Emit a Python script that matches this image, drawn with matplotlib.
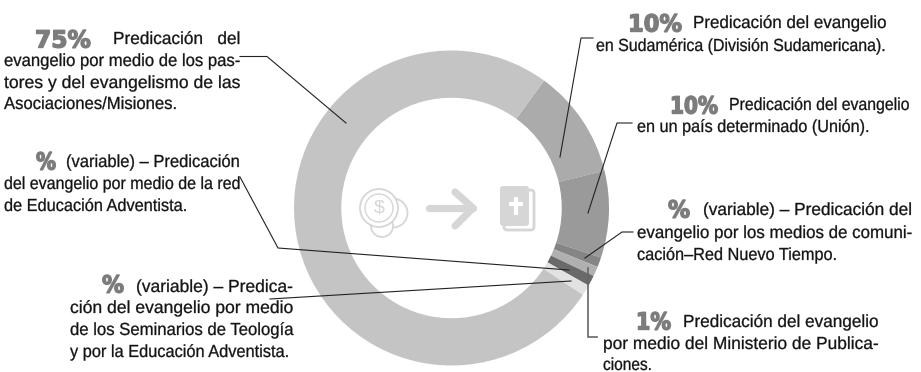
import matplotlib
matplotlib.use("Agg")
import matplotlib.pyplot as plt
from matplotlib.patches import Circle, FancyBboxPatch
from matplotlib.patheffects import AbstractPathEffect
from matplotlib.transforms import Affine2D

W, H = 921, 372
shares = [11.2, 8.9, 1.0, 1.0, 1.1, 1.1, 75.7]
colors = ['#ababab', '#9a9a9a', '#858585', '#b0b0b0', '#6a6a6a', '#e2e2e2', '#c4c4c4']

heads = ['75%', '10%', '10%', '%', '1%', '%', '%']
FONT = ['Liberation Sans', 'DejaVu Sans']
INK = '#141414'
HEADC = '#7c7c7c'

# x0, x1, y-centre, string
lines = [
    (113, 240, 38, 'Predicación   del'),
    (4, 240, 60, 'evangelio por medio de los pas-'),
    (4, 240, 82, 'tores y del evangelismo de las'),
    (4, 177, 103, 'Asociaciones/Misiones.'),
    (693, 886, 22, 'Predicación del evangelio'),
    (596, 886, 45, 'en Sudamérica (División Sudamericana).'),
    (729, 909, 104, 'Predicación del evangelio'),
    (637, 870, 126, 'en un país determinado (Unión).'),
    (703, 912, 209, '(variable) – Predicación del'),
    (637, 912, 232, 'evangelio por los medios de comuni-'),
    (637, 837, 254, 'cación–Red Nuevo Tiempo.'),
    (683, 878, 321, 'Predicación del evangelio'),
    (603, 878, 343, 'por medio del Ministerio de Publica-'),
    (603, 652, 364, 'ciones.'),
    (66, 240, 161, '(variable) – Predicación'),
    (4, 240, 183, 'del evangelio por medio de la red'),
    (4, 187, 205, 'de Educación Adventista.'),
    (136, 293, 286, '(variable) – Predica-'),
    (70, 293, 307, 'ción del evangelio por medio'),
    (70, 293, 329, 'de los Seminarios de Teología'),
    (70, 289, 351, 'y por la Educación Adventista.'),
]
head_pos = [(35, 91, 38), (628, 682, 22), (670, 718, 104), (668, 690, 208),
            (636, 671, 320), (36, 56, 160), (102, 124, 283)]

leaders = [
    ([240, 267, 346], [56.5, 56.5, 123], '#222222', 0.8),
    ([593, 581, 560], [38, 38, 157], '#222222', 0.8),
    ([632, 617, 588], [123, 123, 213], '#222222', 0.8),
    ([633, 622, 585], [232, 232, 258], '#222222', 0.8),
    ([588, 588, 597], [268, 337, 337], '#666666', 1.2),
    ([240, 278, 569], [177, 248, 270], '#222222', 0.8),
    ([270, 571], [299, 281], '#222222', 0.8),
]


class Squash(AbstractPathEffect):
    """Narrow a text horizontally about an anchor (the font is condensed in the original)."""

    def __init__(self, sx, x0, stroke=0):
        super().__init__()
        self.sx, self.x0, self.stroke = sx, x0, stroke

    def draw_path(self, renderer, gc, tpath, affine, rgbFace=None):
        a = affine + Affine2D().translate(-self.x0, 0).scale(self.sx, 1).translate(self.x0, 0)
        if self.stroke:
            g = renderer.new_gc()
            g.copy_properties(gc)
            g.set_linewidth(self.stroke)
            g.set_foreground(rgbFace)
            renderer.draw_path(g, tpath, a, rgbFace)
            g.restore()
        else:
            renderer.draw_path(gc, tpath, a, rgbFace)


fig = plt.figure(figsize=(W / 100, H / 100), dpi=100)
cx, cy, R = 451.5, 208, 157.5
pie_ax = fig.add_axes([(cx - R) / W, 1 - (cy + R) / H, 2 * R / W, 2 * R / H])
pie_ax.pie(shares, colors=colors, startangle=54, counterclock=False, radius=1,
           wedgeprops=dict(width=0.30, linewidth=0))
pie_ax.set_xlim(-1, 1)
pie_ax.set_ylim(-1, 1)
pie_ax.set_axis_off()

ax = fig.add_axes([0, 0, 1, 1])
ax.set_xlim(0, W)
ax.set_ylim(H, 0)
ax.set_axis_off()
ax.patch.set_alpha(0)

ICON = '#d6d6d6'
# coins
for (x, y, r, lw) in [(393, 213, 14.5, 1.3), (382, 226, 11, 1.3), (379, 208, 19, 1.3), (379, 208, 14, 1.0)]:
    ax.add_patch(Circle((x, y), r, fc='white', ec=ICON, lw=lw))
ax.text(379.5, 208, '$', color=ICON, fontsize=14, ha='center', va='center', family=FONT)
# arrow
ax.plot([429, 473], [208, 208], color=ICON, lw=5.2, solid_capstyle='round')
ax.plot([455, 473, 455], [192, 208, 226], color=ICON, lw=5.2, solid_capstyle='round', solid_joinstyle='round')
# bible
ax.add_patch(FancyBboxPatch((504, 190), 30, 40, boxstyle='round,pad=0,rounding_size=3', fc='white', ec=ICON, lw=2))
ax.add_patch(FancyBboxPatch((500, 186), 29, 40, boxstyle='round,pad=0,rounding_size=3', fc=ICON, ec='none'))
ax.plot([516, 516], [197, 215], color='white', lw=3, solid_capstyle='butt')
ax.plot([508.5, 523], [204, 204], color='white', lw=3, solid_capstyle='butt')

for xs, ys, c, lw in leaders:
    ax.plot(xs, ys, color=c, lw=lw, solid_joinstyle='miter')

fig.canvas.draw()
rend = fig.canvas.get_renderer()


def fit(x0, x1, y, s, size, stroke=0, **kw):
    # Right-hand blocks hang from their right edge so the layout box stays inside the figure.
    right = x0 > W / 2
    anchor = x1 if right else x0
    t = ax.text(anchor, y, s, fontsize=size, va='center_baseline',
                ha='right' if right else 'left', **kw)
    w = t.get_window_extent(rend).width
    t.set_path_effects([Squash((x1 - x0) / w, anchor, stroke)])
    return t


for x0, x1, y, s in lines:
    fit(x0, x1, y, s, 12.6, stroke=0.2, color=INK, family=FONT)
for s, (x0, x1, y) in zip(heads, head_pos):
    fit(x0, x1, y, s, 17, stroke=1.0, color=HEADC, family='DejaVu Sans', fontweight='bold')

fig.savefig('out.png', dpi=100)
